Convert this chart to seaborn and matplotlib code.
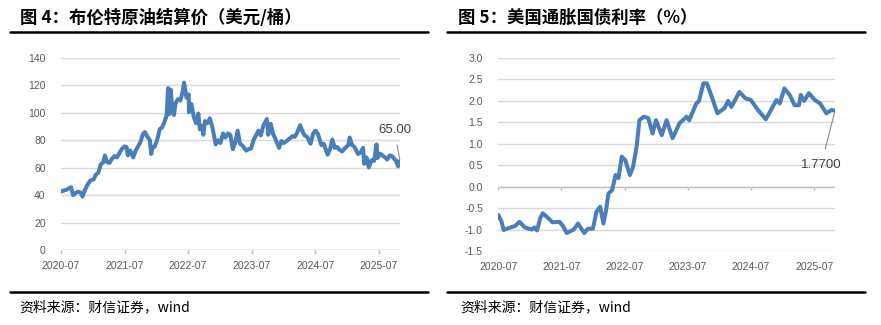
import matplotlib
matplotlib.use("Agg")
import matplotlib.pyplot as plt
from matplotlib.lines import Line2D
import pandas as pd
import seaborn as sns

# Brent settlement price, USD/bbl
brent_dates = [
    "2020-07-01", "2020-07-15", "2020-08-01", "2020-08-15", "2020-08-28", "2020-09-08",
    "2020-09-22", "2020-10-06", "2020-10-20", "2020-11-02", "2020-11-16", "2020-11-30",
    "2020-12-15", "2021-01-04", "2021-01-18", "2021-02-01", "2021-02-15", "2021-03-01",
    "2021-03-10", "2021-03-23", "2021-04-06", "2021-04-20", "2021-05-04", "2021-05-18",
    "2021-06-01", "2021-06-15", "2021-07-01", "2021-07-13", "2021-07-20", "2021-08-03",
    "2021-08-20", "2021-09-03", "2021-09-17", "2021-10-01", "2021-10-15", "2021-10-26",
    "2021-11-10", "2021-11-24", "2021-12-01", "2021-12-10", "2021-12-22", "2022-01-05",
    "2022-01-19", "2022-02-02", "2022-02-16", "2022-02-28", "2022-03-08", "2022-03-16",
    "2022-03-23", "2022-04-01", "2022-04-11", "2022-04-20", "2022-05-04", "2022-05-18",
    "2022-06-01", "2022-06-08", "2022-06-22", "2022-07-05", "2022-07-06", "2022-07-20",
    "2022-08-03", "2022-08-16", "2022-08-29", "2022-09-07", "2022-09-20", "2022-09-27",
    "2022-10-06", "2022-10-20", "2022-11-03", "2022-11-17", "2022-11-28", "2022-12-07",
    "2022-12-20", "2023-01-03", "2023-01-18", "2023-02-01", "2023-02-15", "2023-03-01",
    "2023-03-15", "2023-03-29", "2023-04-12", "2023-04-26", "2023-05-10", "2023-05-31",
    "2023-06-14", "2023-06-28", "2023-07-12", "2023-07-26", "2023-08-09", "2023-08-23",
    "2023-09-06", "2023-09-27", "2023-10-05", "2023-10-19", "2023-11-01", "2023-11-15",
    "2023-12-06", "2023-12-20", "2024-01-03", "2024-01-24", "2024-02-07", "2024-02-21",
    "2024-03-06", "2024-03-20", "2024-04-05", "2024-04-17", "2024-05-01", "2024-05-15",
    "2024-06-04", "2024-06-19", "2024-07-03", "2024-07-17", "2024-08-05", "2024-08-19",
    "2024-09-10", "2024-09-24", "2024-10-07", "2024-10-21", "2024-11-04", "2024-11-18",
    "2024-12-02", "2024-12-16", "2025-01-06", "2025-01-15", "2025-01-29", "2025-02-12",
    "2025-03-04", "2025-03-18", "2025-04-02", "2025-04-08", "2025-04-22", "2025-05-05",
    "2025-05-20", "2025-06-04", "2025-06-18", "2025-06-24", "2025-07-08", "2025-07-22",
    "2025-08-05", "2025-08-19", "2025-09-02", "2025-09-16", "2025-09-30", "2025-10-07",
    "2025-10-20", "2025-10-31",
]
brent_values = [
    42.5, 43.3, 43.9, 45.0, 45.8, 40.0,
    41.5, 42.5, 42.0, 39.0, 43.8, 47.5,
    50.5, 51.5, 55.0, 56.5, 62.5, 64.0,
    69.0, 64.0, 63.5, 66.5, 68.5, 67.5,
    70.5, 73.5, 75.5, 75.0, 69.0, 72.5,
    67.5, 72.5, 75.5, 79.0, 84.5, 86.0,
    82.5, 80.0, 70.0, 75.0, 75.5, 80.5,
    88.0, 89.5, 93.5, 98.0, 118.0, 99.0,
    117.0, 104.5, 98.5, 107.0, 110.0, 109.0,
    116.0, 122.0, 111.0, 113.5, 100.5, 106.5,
    97.0, 92.5, 99.5, 88.0, 90.5, 84.0,
    94.0, 92.5, 96.0, 90.0, 83.0, 77.0,
    80.0, 78.0, 85.0, 82.0, 85.0, 84.0,
    73.5, 78.0, 87.0, 77.5, 76.0, 72.5,
    73.5, 74.0, 80.0, 83.5, 87.0, 83.5,
    90.5, 95.5, 84.0, 92.0, 85.0, 81.0,
    74.5, 79.5, 78.0, 80.0, 81.5, 83.0,
    82.5, 86.0, 91.0, 87.0, 83.5, 82.5,
    77.5, 85.0, 87.0, 84.5, 76.5, 77.5,
    69.5, 73.5, 80.5, 74.5, 75.0, 73.0,
    71.8, 73.9, 76.3, 82.0, 76.5, 75.0,
    70.0, 71.0, 74.5, 62.8, 67.5, 60.2,
    65.5, 65.0, 77.0, 67.1, 70.2, 69.0,
    67.6, 66.0, 69.0, 68.5, 66.0, 65.5,
    61.0, 65.00,
]

# US 10Y TIPS real yield, %
tips_dates = [
    "2020-07-01", "2020-07-20", "2020-08-01", "2020-08-20", "2020-09-10", "2020-10-05",
    "2020-11-01", "2020-12-01", "2021-01-10", "2021-01-25", "2021-02-10", "2021-03-01",
    "2021-03-15", "2021-04-15", "2021-05-10", "2021-06-20", "2021-07-10", "2021-08-01",
    "2021-09-10", "2021-10-05", "2021-11-10", "2021-12-01", "2021-12-30", "2022-01-20",
    "2022-02-10", "2022-03-01", "2022-03-15", "2022-03-30", "2022-04-20", "2022-05-10",
    "2022-05-27", "2022-06-15", "2022-07-05", "2022-08-01", "2022-08-20", "2022-09-10",
    "2022-09-25", "2022-10-20", "2022-11-15", "2022-12-10", "2022-12-30", "2023-02-01",
    "2023-03-01", "2023-04-05", "2023-05-15", "2023-06-25", "2023-07-10", "2023-08-20",
    "2023-09-05", "2023-09-30", "2023-10-20", "2023-11-10", "2023-12-20", "2024-01-30",
    "2024-02-20", "2024-03-10", "2024-04-25", "2024-05-30", "2024-07-01", "2024-08-10",
    "2024-09-25", "2024-10-25", "2024-11-25", "2024-12-15", "2025-01-10", "2025-02-10",
    "2025-03-10", "2025-04-05", "2025-04-15", "2025-05-05", "2025-06-01", "2025-07-05",
    "2025-08-05", "2025-09-10", "2025-10-10", "2025-10-30",
]
tips_values = [
    -0.66, -0.82, -1.01, -0.98, -0.95, -0.92,
    -0.82, -0.95, -1.00, -0.95, -1.02, -0.73,
    -0.62, -0.73, -0.83, -0.82, -0.92, -1.08,
    -1.00, -0.86, -1.08, -0.98, -0.98, -0.58,
    -0.47, -0.86, -0.58, -0.16, -0.08, 0.27,
    0.20, 0.70, 0.62, 0.27, 0.47, 0.97,
    1.55, 1.63, 1.60, 1.24, 1.55, 1.20,
    1.55, 1.13, 1.48, 1.63, 1.55, 1.94,
    2.00, 2.41, 2.41, 2.18, 1.71, 1.83,
    2.00, 1.86, 2.21, 2.06, 2.02, 1.79,
    1.57, 1.79, 2.02, 1.94, 2.29, 2.14,
    1.90, 1.90, 2.14, 2.00, 2.18, 2.02,
    1.94, 1.71, 1.79, 1.77,
]

year_ticks = ["2020-07-01", "2021-07-01", "2022-07-01", "2023-07-01", "2024-07-01", "2025-07-01"]
year_labels = ["2020-07", "2021-07", "2022-07", "2023-07", "2024-07", "2025-07"]

brent = pd.DataFrame({"date": pd.to_datetime(brent_dates), "value": brent_values})
tips = pd.DataFrame({"date": pd.to_datetime(tips_dates), "value": tips_values})

sns.set_theme(style="white")
plt.rcParams["font.family"] = ["Noto Sans CJK SC", "DejaVu Sans"]
plt.rcParams["axes.unicode_minus"] = False

LINE = "#4a7ebb"
GRID = "#d9d9d9"
AXIS = "#bfbfbf"
TICKC = "#595959"
NUMFONT = "Liberation Sans"

W, H = 881, 325
fig = plt.figure(figsize=(W / 100, H / 100), dpi=100)


def fx(px):
    return px / W


def fy(py):
    return 1 - py / H


ax1 = fig.add_axes([fx(61), fy(250), fx(400) - fx(61), fy(58) - fy(250)])
ax2 = fig.add_axes([fx(498.3), fy(251), fx(835) - fx(498.3), fy(58) - fy(251)])

for ax, df in ((ax1, brent), (ax2, tips)):
    sns.lineplot(data=df, x="date", y="value", ax=ax, color=LINE, linewidth=2.9,
                 solid_joinstyle="round", solid_capstyle="round", zorder=3)
    ax.set_xlim(df["date"].iloc[0], df["date"].iloc[-1])
    ax.set_xlabel("")
    ax.set_ylabel("")
    for s in ax.spines.values():
        s.set_visible(False)
    ax.grid(axis="y", color=GRID, linewidth=1.0)
    ax.grid(axis="x", visible=False)
    ax.set_axisbelow(True)
    ax.set_xticks(pd.to_datetime(year_ticks))
    ax.set_xticklabels(year_labels)
    ax.tick_params(axis="x", length=0, pad=8, labelsize=7.5, labelcolor=TICKC)
    ax.tick_params(axis="y", length=0, pad=11, labelsize=7.5, labelcolor=TICKC)
    for lab in ax.get_xticklabels() + ax.get_yticklabels():
        lab.set_fontfamily(NUMFONT)

# left panel axis
ax1.set_ylim(0, 140)
ax1.set_yticks(range(0, 141, 20))
ax1.axhline(0, color=AXIS, linewidth=1.0, zorder=2)
ax1.vlines(pd.to_datetime(year_ticks), -2.6, 0, color=AXIS, linewidth=1.0, clip_on=False)

# right panel axis (crosses at zero)
ax2.set_ylim(-1.5, 3.0)
ax2.set_yticks([-1.5, -1.0, -0.5, 0.0, 0.5, 1.0, 1.5, 2.0, 2.5, 3.0])
ax2.set_yticklabels([f"{v:.1f}" for v in ax2.get_yticks()])
for lab in ax2.get_yticklabels():
    lab.set_fontfamily(NUMFONT)
ax2.axhline(0, color=AXIS, linewidth=1.0, zorder=2)
ax2.vlines(pd.to_datetime(year_ticks), -0.08, 0, color=AXIS, linewidth=1.0)

# last-value labels
ax1.annotate(f"{brent_values[-1]:.2f}", xy=(brent["date"].iloc[-1], brent_values[-1]),
             xytext=(-4, 22), textcoords="offset points", ha="center", va="center",
             fontsize=9.5, color="#404040", family=NUMFONT,
             arrowprops=dict(arrowstyle="-", color="#8c8c8c", lw=0.8, shrinkA=4, shrinkB=1))
ax2.annotate(f"{tips_values[-1]:.4f}", xy=(tips["date"].iloc[-1], tips_values[-1]),
             xytext=(-10, -39), textcoords="offset points", ha="center", va="center",
             fontsize=9.5, color="#404040", family=NUMFONT,
             arrowprops=dict(arrowstyle="-", color="#8c8c8c", lw=0.8, shrinkA=5, shrinkB=1))

# figure titles with rules
fig.text(fx(20), fy(18), "图 4：布伦特原油结算价（美元/桶）", fontsize=12.5, weight="bold",
         va="center", ha="left", color="#000000")
fig.text(fx(458), fy(18), "图 5：美国通胀国债利率（%）", fontsize=12.5, weight="bold",
         va="center", ha="left", color="#000000")
for x0, x1 in ((10, 428), (447, 865)):
    fig.add_artist(Line2D([fx(x0), fx(x1)], [fy(32), fy(32)], color="black", linewidth=1.8))
    fig.add_artist(Line2D([fx(x0), fx(x1)], [fy(291.5), fy(291.5)], color="black", linewidth=1.8))

# source notes
fig.text(fx(19), fy(307), "资料来源：财信证券，wind", fontsize=10, style="italic",
         va="center", ha="left", color="#000000")
fig.text(fx(460), fy(307), "资料来源：财信证券，wind", fontsize=10, style="italic",
         va="center", ha="left", color="#000000")

fig.savefig("out.png", dpi=100)
